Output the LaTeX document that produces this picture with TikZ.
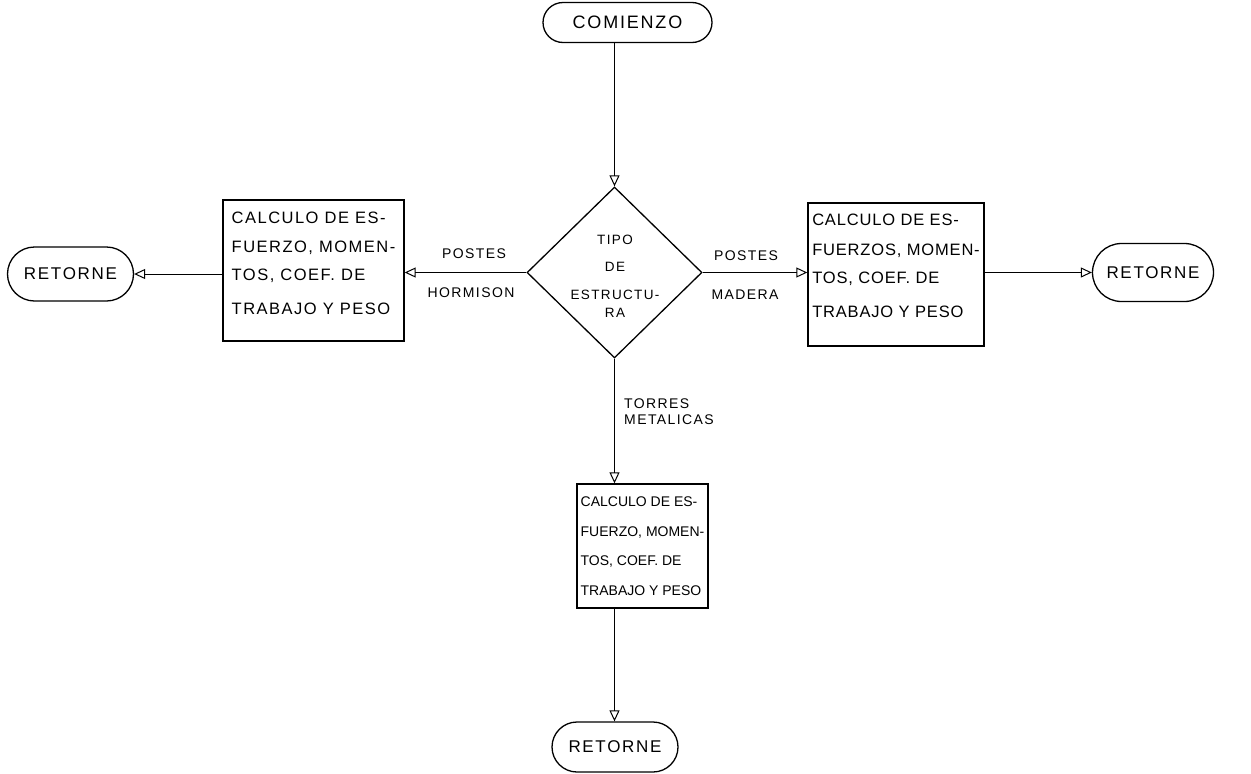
\documentclass[tikz,border=0pt]{standalone}
\usepackage{fontspec}
\setmainfont{Liberation Sans}
\newfontfamily\procfont[LetterSpace=9]{Liberation Sans}
\newfontfamily\procfontnarrow[LetterSpace=5]{Liberation Sans}
\newfontfamily\termfont[LetterSpace=10]{Liberation Sans}
\newfontfamily\retfont[LetterSpace=10]{Liberation Sans}
\newfontfamily\decfont[LetterSpace=10]{Liberation Sans}
\newfontfamily\labelfont[LetterSpace=10]{Liberation Sans}
\usetikzlibrary{shapes.geometric,shapes.misc,arrows.meta}

\tikzset{
  conn/.style={line width=1pt, -{Triangle[open,length=11pt,width=10pt]}},
  term/.style={draw, rounded rectangle, line width=1.3pt, inner sep=0pt},
  retterm/.style={term, font=\retfont\fontsize{17}{20}\selectfont},
  procbox/.style={draw, rectangle, line width=1.4pt, align=left, inner sep=0pt},
  decision/.style={draw, diamond, line width=1.3pt, inner sep=0pt},
  lbl/.style={font=\labelfont\fontsize{14}{16}\selectfont, inner sep=0pt},
}

\begin{document}
\begin{tikzpicture}[x=1pt,y=-1pt]
\useasboundingbox (0,0) rectangle (1251,774);

% start terminal
\node[term, minimum width=169pt, minimum height=40pt,
      font=\termfont\fontsize{18}{22}\selectfont] (start) at (627.5,22.5) {COMIENZO};

% decision diamond and its text
\node[decision, minimum width=175pt, minimum height=171pt] (dec) at (614.5,272.5) {};
\node[font=\decfont\fontsize{13.5}{17}\selectfont, align=center, inner sep=0pt]
  (dectext) at (615,276.5) {TIPO\\[10pt]DE\\[11pt]ESTRUCTU-\\[1pt]RA};

% process boxes
\node[procbox, minimum width=181pt, minimum height=141pt, text depth=14pt,
      font=\procfont\fontsize{16.5}{28}\selectfont] (lbox) at (313.5,270.5)
  {CALCULO DE ES-\\[1pt]FUERZO, MOMEN-\\TOS, COEF. DE\\[6pt]TRABAJO Y PESO};
\node[procbox, minimum width=176pt, minimum height=143pt, text depth=17pt,
      font=\procfontnarrow\fontsize{16.5}{28}\selectfont] (rbox) at (896,274.5)
  {CALCULO DE ES-\\[2pt]FUERZOS, MOMEN-\\TOS, COEF. DE\\[6pt]TRABAJO Y PESO};
\node[procbox, minimum width=131pt, minimum height=124pt,
      font=\fontsize{14}{29.5}\selectfont] (bbox) at (642.5,546)
  {CALCULO DE ES-\\FUERZO, MOMEN-\\TOS, COEF. DE\\TRABAJO Y PESO};

% return terminals
\node[retterm, minimum width=126pt, minimum height=54pt] (lret) at (70.5,274) {RETORNE};
\node[retterm, minimum width=121pt, minimum height=58pt] (rret) at (1153,272.5) {RETORNE};
\node[retterm, minimum width=126pt, minimum height=50pt] (bret) at (615,747) {RETORNE};

% branch labels
\node[lbl] (lpost) at (474,254) {POSTES};
\node[lbl] (lhorm) at (471,293) {HORMISON};
\node[lbl] (rpost) at (746,256) {POSTES};
\node[lbl] (rmad) at (745,295) {MADERA};
\node[lbl, align=left, anchor=north west] (torres) at (624,399) {TORRES\\METALICAS};

% connectors
\draw[conn] (dec.north |- start.south) -- (dec.north);
\draw[conn] (dec.west) -- (dec.west -| lbox.east);
\draw[conn] (lret.east -| lbox.west) -- (lret.east);
\draw[conn] (dec.east) -- (dec.east -| rbox.west);
\draw[conn] (rret.west -| rbox.east) -- (rret.west);
\draw[conn] (dec.south) -- (dec.south |- bbox.north);
\draw[conn] (dec.south |- bbox.south) -- (dec.south |- bret.north);
\end{tikzpicture}
\end{document}
